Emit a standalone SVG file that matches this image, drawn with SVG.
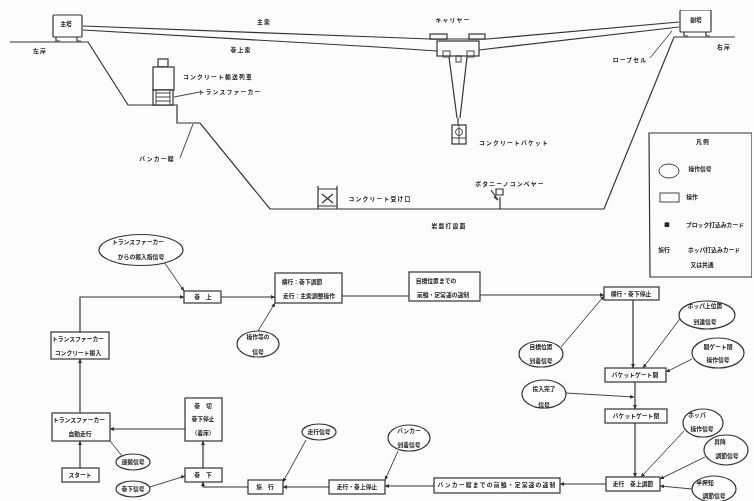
<svg xmlns="http://www.w3.org/2000/svg" width="754" height="501" viewBox="0 0 754 501">
<style>
.l{fill:none;stroke:#333;stroke-width:1.2}
.s{fill:none;stroke:#444;stroke-width:1}
.a{marker-end:url(#ah)}
.n{fill:#fdfdfd;stroke:#333;stroke-width:1.2}
text{font-family:"Noto Sans CJK JP","Noto Sans",sans-serif;font-size:5.8px;font-weight:700;fill:#222;text-anchor:middle}
.w{letter-spacing:1.2px}
</style>
<defs>
<marker id="ah" markerWidth="5" markerHeight="5" refX="4" refY="2" orient="auto" markerUnits="userSpaceOnUse"><path d="M0,0L4,2L0,4z" fill="#333"/></marker>
<filter id="soft" x="0" y="0" width="100%" height="100%"><feGaussianBlur stdDeviation="0.4"/></filter>
</defs>
<rect width="754" height="501" fill="#fcfcfc"/>
<g filter="url(#soft)">
<g id="terrain">
<path class="l" d="M10,42H88L128,105H177V123H200L270,209H604L674,37H735"/>
<path class="s" d="M193,124L180,158"/>
<path class="s" d="M174,97L200,92"/>
<path class="s" d="M650,58L672,31"/>
</g>
<g id="left-tower"><rect class="n" x="53" y="15" width="29" height="22" rx="1"/><path class="l" d="M56,37V41H60M77,37V41H81"/><text x="66" y="26">主塔</text></g>
<g id="right-tower"><rect class="n" x="680" y="10" width="31" height="22" rx="1"/><path class="l" d="M684,32V36H688M706,32V36H710"/><text x="696" y="22">副塔</text></g>
<g id="cables">
<path class="l" d="M83,26L377,37L430,39H487L679,22"/>
<path class="l" d="M83,30L377,47L437,51M479,50L679,27"/>
</g>
<g id="carrier">
<rect class="n" x="437" y="41" width="42" height="15"/>
<rect class="n" x="430" y="34" width="17" height="5"/>
<rect class="n" x="469" y="34" width="16" height="5"/>
<rect class="s" x="443" y="51" width="7" height="6"/>
<rect class="s" x="467" y="51" width="7" height="6"/>
<rect class="s" x="456" y="56" width="5" height="6"/>
<path class="l" d="M449,57L457,118M467,57L460,118"/>
<path class="l" d="M458,118V125"/>
<rect class="n" x="452" y="125" width="14" height="19"/>
<path class="s" d="M452,138H466M459,125V144"/>
<circle class="s" cx="459" cy="132" r="3.5"/>
</g>
<g id="concrete-car">
<rect class="n" x="158" y="59" width="10" height="8"/>
<rect class="n" x="153" y="67" width="21" height="23"/>
<rect class="n" x="153" y="90" width="20" height="15"/>
<path class="s" d="M156,93H170M156,97H170M156,101H170M156,90V105M170,90V105"/>
</g>
<g id="hopper-small">
<path class="l" d="M318,186V209M337,186V209M318,189H337M318,206H337M322,194L333,203M333,194L322,203"/>
</g>
<g id="compressor">
<path class="l" d="M500,209V197M491,190L498,200L494,197M496,189H503V195H496z"/>
</g>
<g id="labels">
<text x="264" y="24" class="w">主索</text>
<text x="241" y="52" class="w">巻上索</text>
<text x="40" y="53" class="w">左岸</text>
<text x="724" y="49" class="w">右岸</text>
<text x="453" y="22" class="w">キャリヤー</text>
<text x="630" y="62" class="w">ロープセル</text>
<text x="218" y="79" class="w">コンクリート輸送列車</text>
<text x="230" y="94" class="w">トランスファーカー</text>
<text x="157" y="161" class="w">バンカー線</text>
<text x="514" y="145" class="w">コンクリートバケット</text>
<text x="510" y="186" class="w">ボタニーノコンベヤー</text>
<text x="380" y="201" class="w">コンクリート受け口</text>
<text x="449" y="228" class="w">岩盤打設面</text>
</g>
<g id="legend">
<path class="l" d="M650,277L649,133H752V277z"/>
<text x="703" y="144" class="w">凡例</text>
<ellipse class="s" cx="669" cy="171" rx="10" ry="7"/><text x="700" y="171">操作信号</text>
<rect class="s" x="660" y="193" width="19" height="9"/><text x="692" y="199">操作</text>
<text x="667" y="227">■</text><text x="715" y="227">ブロック打込みカード</text>
<text x="664" y="252">旅行</text><text x="714" y="252">ホッパ打込みカード</text>
<text x="702" y="267">又は共通</text>
</g>
<g id="connectors">
<path class="l a" d="M80,332V297H184"/>
<path class="l a" d="M221,297H275"/>
<path class="l" d="M342,296H409"/>
<path class="l a" d="M480,295H604"/>
<path class="l a" d="M80,413V359"/>
<path class="l a" d="M80,468V441"/>
<path class="l a" d="M185,429H110"/>
<path class="l a" d="M203,468V441"/>
<path class="l a" d="M248,487H203V482"/>
<path class="l a" d="M329,487H283"/>
<path class="l a" d="M434,486H385"/>
<path class="l a" d="M606,484H560"/>
<path class="l a" d="M633,300V368"/>
<path class="l a" d="M635,382V409"/>
<path class="l a" d="M635,423V477"/>
<path class="s a" d="M164,262L184,291"/>
<path class="s a" d="M258,331L275,303"/>
<path class="s" d="M110,441L122,456"/>
<path class="s a" d="M150,487L185,476"/>
<path class="s a" d="M306,440L283,482"/>
<path class="s a" d="M398,451L385,480"/>
<path class="s a" d="M561,347L604,296"/>
<path class="s a" d="M682,316L643,368"/>
<path class="s a" d="M692,359L666,372"/>
<path class="s a" d="M566,393L634,397"/>
<path class="s a" d="M684,431L641,477"/>
<path class="s a" d="M705,457L660,479"/>
<path class="s a" d="M692,489L660,486"/>
</g>
<g id="n-hoist"><rect class="n" x="184" y="291" width="37" height="12"/><text x="203" y="299">巻　上</text></g>
<g id="n-adjust"><rect class="n" x="275" y="273" width="67" height="30"/><text x="302" y="284">横行：巻下調節</text><text x="309" y="298">走行：主索調整操作</text></g>
<g id="n-target"><rect class="n" x="409" y="272" width="71" height="29"/><text x="436" y="283">目標位置までの</text><text x="443" y="297">前輪・定常速の速制</text></g>
<g id="n-stop"><rect class="n" x="604" y="287" width="55" height="13"/><text x="631" y="296">横行・巻下停止</text></g>
<g id="n-gate1"><rect class="n" x="605" y="368" width="61" height="14"/><text x="635" y="377">バケットゲート開</text></g>
<g id="n-gate2"><rect class="n" x="605" y="409" width="62" height="14"/><text x="636" y="418">バケットゲート閉</text></g>
<g id="n-travel"><rect class="n" x="606" y="477" width="54" height="14"/><text x="633" y="486">走行　巻上調節</text></g>
<g id="n-bunker"><rect class="n" x="434" y="478" width="126" height="15"/><text x="497" y="487" class="w">バンカー線までの前輪・定常速の速制</text></g>
<g id="n-travelstop"><rect class="n" x="329" y="480" width="56" height="14"/><text x="357" y="489">走行・巻上停止</text></g>
<g id="n-run"><rect class="n" x="248" y="480" width="35" height="14"/><text x="265" y="489">旅　行</text></g>
<g id="n-down"><rect class="n" x="185" y="468" width="37" height="14"/><text x="203" y="477">巻　下</text></g>
<g id="n-cut"><rect class="n" x="185" y="398" width="37" height="43"/><text x="203" y="408">巻　切</text><text x="203" y="421">巻下停止</text><text x="203" y="435">（着床）</text></g>
<g id="n-start"><rect class="n" x="62" y="468" width="37" height="14"/><text x="80" y="477">スタート</text></g>
<g id="n-tc2"><rect class="n" x="52" y="413" width="58" height="28"/><text x="79" y="422">トランスファーカー</text><text x="80" y="436">自動走行</text></g>
<g id="n-tc1"><rect class="n" x="51" y="332" width="58" height="27"/><text x="78" y="341">トランスファーカー</text><text x="78" y="355">コンクリート搬入</text></g>
<g id="e-tc"><ellipse class="n" cx="141" cy="250" rx="42" ry="15.5"/><text x="138" y="244">トランスファーカー</text><text x="141" y="259">からの搬入指信号</text></g>
<g id="e-wait"><ellipse class="n" cx="258" cy="344" rx="21" ry="13"/><text x="258" y="339">操作等の</text><text x="258" y="354">信号</text></g>
<g id="e-run"><ellipse class="n" cx="133" cy="462" rx="17" ry="8"/><text x="133" y="464">運搬信号</text></g>
<g id="e-down"><ellipse class="n" cx="133" cy="489" rx="17" ry="8"/><text x="133" y="491">巻下信号</text></g>
<g id="e-travel"><ellipse class="n" cx="319" cy="432" rx="17" ry="8"/><text x="319" y="434">走行信号</text></g>
<g id="e-bunker"><ellipse class="n" cx="409" cy="438" rx="21" ry="13"/><text x="409" y="433">バンカー</text><text x="409" y="447">到着信号</text></g>
<g id="e-target"><ellipse class="n" cx="541" cy="354" rx="22" ry="13"/><text x="541" y="349">目標位置</text><text x="541" y="363">到着信号</text></g>
<g id="e-input"><ellipse class="n" cx="544" cy="394" rx="22" ry="14"/><text x="544" y="391">投入完了</text><text x="544" y="407">信号</text></g>
<g id="e-hopper-up"><ellipse class="n" cx="707" cy="315" rx="28" ry="14"/><text x="705" y="308">ホッパ上位置</text><text x="705" y="324">到達信号</text></g>
<g id="e-gate"><ellipse class="n" cx="718" cy="353" rx="26" ry="15"/><text x="718" y="349">開ゲート閉</text><text x="718" y="362">操作信号</text></g>
<g id="e-hopper"><ellipse class="n" cx="703" cy="423" rx="20" ry="14"/><text x="697" y="417">ホッパ</text><text x="702" y="431">操作信号</text></g>
<g id="e-lift"><ellipse class="n" cx="726" cy="450" rx="22" ry="15"/><text x="720" y="444">昇降</text><text x="727" y="458">調節信号</text></g>
<g id="e-half"><ellipse class="n" cx="714" cy="489" rx="22" ry="13"/><text x="705" y="485">半押知</text><text x="714" y="498">調節信号</text></g>
</g>
</svg>
